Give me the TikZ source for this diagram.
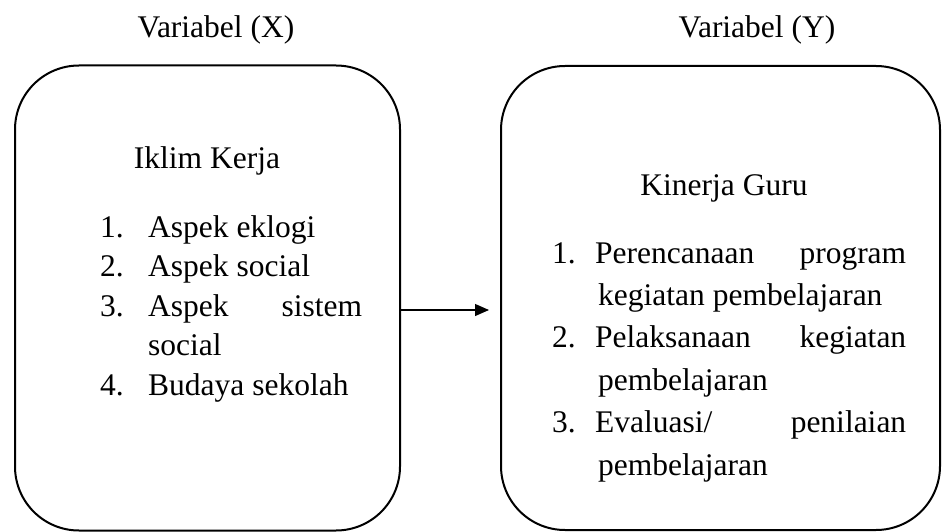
\documentclass[tikz,border=0pt]{standalone}
\usepackage{fontspec}
\setmainfont{Liberation Serif}
\usetikzlibrary{arrows.meta}

\newcommand{\numbox}[2]{\makebox[#1][l]{#2}}

\begin{document}
\begin{tikzpicture}[x=1pt,y=-1pt,
  varbox/.style={draw,line width=2pt,rounded corners=64pt,inner sep=0pt},
  headtxt/.style={anchor=base,inner sep=0pt,font=\fontsize{31.5}{38}\selectfont},
  listtxt/.style={anchor=base west,inner sep=0pt,align=left}]
  \useasboundingbox (0,0) rectangle (942,532);
  % headings
  \node[headtxt] (hx) at (216,38) {Variabel (X)};
  \node[headtxt] (hy) at (757,38) {Variabel (Y)};
  % boxes
  \node[varbox,minimum width=385pt,minimum height=465pt] (iklim) at (207.5,298) {};
  \node[varbox,minimum width=439pt,minimum height=464pt] (kinerja) at (720.5,298) {};
  % left box text (base = last line)
  \node[headtxt] (tx) at (207,168) {Iklim Kerja};
  \node[listtxt,font=\fontsize{31.5}{39.5}\selectfont] (lx) at (100,395)
    {\numbox{48pt}{1.}Aspek eklogi\\
     \numbox{48pt}{2.}Aspek social\\
     \numbox{48pt}{3.}\makebox[214pt][s]{Aspek\hfill sistem}\\
     \hspace*{48pt}social\\
     \numbox{48pt}{4.}Budaya sekolah};
  % right box text
  \node[headtxt] (ty) at (724,195) {Kinerja Guru};
  \node[listtxt,font=\fontsize{31.5}{42.4}\selectfont] (ly) at (552,475)
    {\numbox{43pt}{1.}\makebox[311pt][s]{Perencanaan\hfill program}\\
     \hspace*{46pt}kegiatan pembelajaran\\
     \numbox{43pt}{2.}\makebox[311pt][s]{Pelaksanaan\hfill kegiatan}\\
     \hspace*{46pt}pembelajaran\\
     \numbox{43pt}{3.}\makebox[311pt][s]{Evaluasi/\hfill penilaian}\\
     \hspace*{46pt}pembelajaran};
  % relation
  \draw[line width=1.2pt,-{Triangle[length=14pt,width=12pt]},shorten >=11pt]
    (iklim.east |- 0,310) -- (kinerja.west |- 0,310);
\end{tikzpicture}
\end{document}
